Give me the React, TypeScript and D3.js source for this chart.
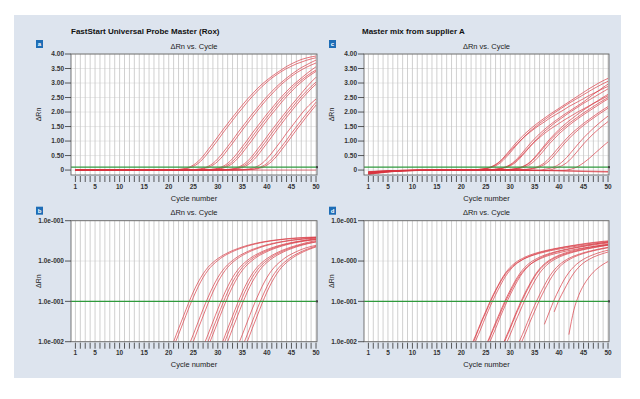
import React from 'react';
import * as d3 from 'd3';

type Pt = [number, number];
type Curve = { lead: Pt[]; start?: number; values?: number[] };

// FastStart Universal Probe Master (Rox) - dilution series, delta Rn per cycle
const fastStartCurves: Curve[] = [
  { lead: [[1, 0]], start: 19, values: [0.0025, 0.005, 0.010, 0.021, 0.043, 0.088, 0.17, 0.30, 0.48, 0.70, 0.92, 1.15, 1.38, 1.60, 1.82, 2.03, 2.24, 2.44, 2.62, 2.80, 2.96, 3.10, 3.23, 3.35, 3.46, 3.57, 3.66, 3.74, 3.81, 3.86, 3.90, 3.93] },
  { lead: [[1, 0]], start: 20, values: [0.0037, 0.0075, 0.015, 0.031, 0.064, 0.125, 0.23, 0.39, 0.59, 0.81, 1.03, 1.27, 1.49, 1.71, 1.93, 2.13, 2.34, 2.53, 2.71, 2.88, 3.03, 3.17, 3.29, 3.40, 3.50, 3.58, 3.66, 3.72, 3.78, 3.83, 3.87] },
  { lead: [[1, 0]], start: 23, values: [0.0037, 0.0075, 0.015, 0.031, 0.064, 0.125, 0.23, 0.39, 0.59, 0.81, 1.03, 1.27, 1.49, 1.71, 1.93, 2.13, 2.34, 2.53, 2.71, 2.88, 3.03, 3.17, 3.30, 3.42, 3.53, 3.62, 3.71, 3.79] },
  { lead: [[1, 0]], start: 23, values: [0.0025, 0.005, 0.010, 0.021, 0.043, 0.088, 0.17, 0.30, 0.48, 0.70, 0.92, 1.15, 1.38, 1.60, 1.82, 2.03, 2.24, 2.44, 2.62, 2.80, 2.96, 3.10, 3.23, 3.35, 3.45, 3.54, 3.62, 3.69] },
  { lead: [[1, 0]], start: 26, values: [0.0037, 0.0075, 0.015, 0.031, 0.064, 0.125, 0.23, 0.39, 0.59, 0.81, 1.03, 1.27, 1.49, 1.71, 1.93, 2.13, 2.34, 2.53, 2.71, 2.88, 3.03, 3.17, 3.31, 3.44, 3.56] },
  { lead: [[1, 0]], start: 26, values: [0.0025, 0.005, 0.010, 0.021, 0.043, 0.088, 0.17, 0.30, 0.48, 0.70, 0.92, 1.15, 1.38, 1.60, 1.82, 2.03, 2.24, 2.44, 2.62, 2.80, 2.96, 3.10, 3.23, 3.35, 3.45] },
  { lead: [[1, 0]], start: 27, values: [0.0037, 0.0075, 0.015, 0.031, 0.064, 0.125, 0.23, 0.39, 0.59, 0.81, 1.03, 1.27, 1.49, 1.71, 1.93, 2.13, 2.34, 2.53, 2.71, 2.88, 3.03, 3.17, 3.29, 3.40] },
  { lead: [[1, 0]], start: 29, values: [0.0025, 0.005, 0.010, 0.021, 0.043, 0.088, 0.17, 0.30, 0.48, 0.70, 0.92, 1.15, 1.38, 1.60, 1.82, 2.03, 2.24, 2.44, 2.64, 2.84, 3.03, 3.20] },
  { lead: [[1, 0]], start: 30, values: [0.0037, 0.0075, 0.015, 0.031, 0.064, 0.125, 0.23, 0.39, 0.59, 0.81, 1.03, 1.27, 1.49, 1.71, 1.93, 2.13, 2.34, 2.53, 2.71, 2.88, 3.03] },
  { lead: [[1, 0]], start: 30, values: [0.0025, 0.005, 0.010, 0.021, 0.043, 0.088, 0.17, 0.30, 0.48, 0.70, 0.92, 1.15, 1.38, 1.60, 1.82, 2.03, 2.24, 2.44, 2.62, 2.80, 2.96] },
  { lead: [[1, 0]], start: 33, values: [0.0037, 0.0075, 0.015, 0.031, 0.064, 0.125, 0.23, 0.39, 0.59, 0.81, 1.03, 1.27, 1.49, 1.71, 1.93, 2.13, 2.30, 2.45] },
  { lead: [[1, 0]], start: 34, values: [0.0037, 0.0075, 0.015, 0.031, 0.064, 0.125, 0.23, 0.39, 0.59, 0.81, 1.03, 1.27, 1.49, 1.71, 1.93, 2.13, 2.34] },
  { lead: [[1, 0]], start: 34, values: [0.0025, 0.005, 0.010, 0.021, 0.043, 0.088, 0.17, 0.30, 0.48, 0.70, 0.92, 1.15, 1.38, 1.60, 1.82, 2.03, 2.24] },
  { lead: [[1, 0], [50, 0]] },
];

// Master mix from supplier A
const supplierACurves: Curve[] = [
  { lead: [[1, -0.12], [8, -0.02], [14, 0]], start: 20, values: [0.002, 0.004, 0.008, 0.015, 0.030, 0.057, 0.108, 0.19, 0.32, 0.50, 0.70, 0.90, 1.08, 1.25, 1.40, 1.54, 1.67, 1.79, 1.91, 2.02, 2.13, 2.24, 2.35, 2.46, 2.57, 2.68, 2.79, 2.89, 2.99, 3.08, 3.16] },
  { lead: [[1, -0.08], [8, -0.015], [14, 0]], start: 21, values: [0.003, 0.006, 0.011, 0.021, 0.042, 0.080, 0.145, 0.25, 0.41, 0.60, 0.80, 0.99, 1.17, 1.33, 1.47, 1.61, 1.73, 1.85, 1.97, 2.08, 2.19, 2.30, 2.40, 2.50, 2.60, 2.70, 2.80, 2.89, 2.98, 3.06] },
  { lead: [[1, -0.15], [8, -0.03], [14, -0.005]], start: 20, values: [0.002, 0.004, 0.007, 0.014, 0.028, 0.053, 0.10, 0.18, 0.30, 0.47, 0.65, 0.84, 1.00, 1.16, 1.30, 1.43, 1.55, 1.66, 1.78, 1.88, 1.98, 2.08, 2.19, 2.28, 2.37, 2.46, 2.56, 2.64, 2.72, 2.81, 2.88] },
  { lead: [[1, -0.10], [8, -0.02], [14, 0]], start: 23, values: [0.002, 0.004, 0.008, 0.015, 0.030, 0.057, 0.108, 0.19, 0.32, 0.50, 0.70, 0.90, 1.08, 1.25, 1.40, 1.54, 1.67, 1.79, 1.91, 2.02, 2.13, 2.24, 2.35, 2.48, 2.61, 2.73, 2.85, 2.96] },
  { lead: [[1, -0.06], [8, -0.01], [14, 0]], start: 24, values: [0.003, 0.006, 0.011, 0.021, 0.042, 0.080, 0.145, 0.25, 0.41, 0.60, 0.80, 0.99, 1.17, 1.33, 1.47, 1.61, 1.73, 1.85, 1.97, 2.08, 2.19, 2.30, 2.40, 2.50, 2.60, 2.70, 2.80] },
  { lead: [[1, -0.13], [8, -0.025], [14, -0.005]], start: 23, values: [0.002, 0.004, 0.007, 0.014, 0.027, 0.051, 0.097, 0.17, 0.29, 0.45, 0.63, 0.81, 0.97, 1.12, 1.26, 1.39, 1.50, 1.61, 1.72, 1.82, 1.92, 2.02, 2.11, 2.20, 2.30, 2.38, 2.47, 2.56] },
  { lead: [[1, -0.09], [8, -0.02], [14, 0]], start: 27, values: [0.003, 0.006, 0.011, 0.021, 0.042, 0.080, 0.145, 0.25, 0.41, 0.60, 0.80, 0.99, 1.17, 1.33, 1.47, 1.61, 1.73, 1.85, 1.97, 2.08, 2.19, 2.30, 2.40, 2.50] },
  { lead: [[1, -0.11], [8, -0.02], [14, 0]], start: 27, values: [0.002, 0.004, 0.008, 0.015, 0.030, 0.057, 0.108, 0.19, 0.32, 0.50, 0.70, 0.90, 1.08, 1.25, 1.40, 1.54, 1.67, 1.79, 1.91, 2.02, 2.13, 2.24, 2.35, 2.45] },
  { lead: [[1, -0.05], [8, -0.01], [14, 0]], start: 27, values: [0.003, 0.006, 0.012, 0.023, 0.046, 0.088, 0.16, 0.27, 0.44, 0.64, 0.85, 1.05, 1.23, 1.40, 1.55, 1.69, 1.82, 1.95, 2.07, 2.18, 2.29, 2.40, 2.51, 2.61] },
  { lead: [[1, -0.14], [8, -0.03], [14, -0.01]], start: 30, values: [0.003, 0.006, 0.011, 0.021, 0.042, 0.080, 0.145, 0.25, 0.41, 0.60, 0.80, 0.99, 1.17, 1.33, 1.47, 1.61, 1.73, 1.85, 1.97, 2.08, 2.19] },
  { lead: [[1, -0.07], [8, -0.015], [14, 0]], start: 30, values: [0.002, 0.004, 0.008, 0.015, 0.030, 0.057, 0.108, 0.19, 0.32, 0.50, 0.70, 0.90, 1.08, 1.25, 1.40, 1.54, 1.67, 1.79, 1.91, 2.02, 2.13] },
  { lead: [[1, -0.12], [8, -0.02], [20, 0]], start: 36, values: [-0.01, 0.027, 0.055, 0.11, 0.20, 0.34, 0.52, 0.72, 0.92, 1.11, 1.28, 1.44, 1.59, 1.73, 1.86] },
  { lead: [[1, -0.09], [8, -0.02], [20, 0]], start: 37, values: [-0.02, -0.01, 0.055, 0.11, 0.19, 0.32, 0.50, 0.70, 0.90, 1.08, 1.25, 1.40, 1.54, 1.67] },
  { lead: [[1, -0.10], [8, -0.02], [25, 0]], start: 41, values: [-0.01, 0.015, 0.06, 0.14, 0.25, 0.38, 0.53, 0.68, 0.83, 0.97] },
  { lead: [[1, -0.10], [8, -0.02], [30, 0], [40, -0.03], [50, -0.07]] },
  { lead: [[1, -0.06], [8, -0.01], [30, 0], [50, -0.05]] },
];

const cycleLabels = [1, 5, 10, 15, 20, 25, 30, 35, 40, 45, 50];
const cycles = d3.range(1, 51);
const linearTicks = [0, 0.5, 1, 1.5, 2, 2.5, 3, 3.5, 4];
const linearLabels = ['0', '0.50', '1.00', '1.50', '2.00', '2.50', '3.00', '3.50', '4.00'];
const logTicks = [0.01, 0.1, 1, 10];
const logLabels = ['1.0e-002', '1.0e-001', '1.0e-000', '1.0e-001'];
const threshold = 0.1;

const FONT = 'Liberation Sans, Arial, sans-serif';

function toPoints(c: Curve): Pt[] {
  const pts: Pt[] = [...c.lead];
  (c.values || []).forEach((v, i) => pts.push([(c.start as number) + i, v]));
  return pts;
}

type PanelSpec = {
  id: string;
  curves: Curve[];
  log: boolean;
  left: number;
  right: number;
  top: number;
  bottom: number;
};

const panels: PanelSpec[] = [
  { id: 'a', curves: fastStartCurves, log: false, left: 71, right: 317, top: 54, bottom: 175 },
  { id: 'b', curves: fastStartCurves, log: true, left: 71, right: 317, top: 220.7, bottom: 341.7 },
  { id: 'c', curves: supplierACurves, log: false, left: 364, right: 609, top: 54, bottom: 175 },
  { id: 'd', curves: supplierACurves, log: true, left: 364, right: 609, top: 220.7, bottom: 341.7 },
];

function Panel({ p }: { p: PanelSpec }) {
  const x = d3.scaleLinear().domain([0.1, 50.2]).range([p.left, p.right]);
  const y: any = p.log
    ? d3.scaleLog().domain([0.01, 10]).range([p.bottom, p.top])
    : d3.scaleLinear().domain([-0.17, 4]).range([p.bottom, p.top]);
  const line = d3.line<Pt>()
    .x((d) => x(d[0]))
    .y((d) => y(d[1]))
    .curve(d3.curveMonotoneX);
  if (p.log) line.defined((d) => d[1] > 0);

  const ticks = p.log ? logTicks : linearTicks;
  const labels = p.log ? logLabels : linearLabels;
  const cx = (p.left + p.right) / 2;
  const clipId = `clip-${p.id}`;

  return (
    <g>
      <clipPath id={clipId}>
        <rect x={p.left} y={p.top} width={p.right - p.left} height={p.bottom - p.top} />
      </clipPath>
      <rect x={p.left} y={p.top} width={p.right - p.left} height={p.bottom - p.top} fill="#fff" />
      {ticks.map((t) => (
        <line key={`h${t}`} x1={p.left} x2={p.right} y1={y(t)} y2={y(t)} stroke="#e2e2e2" strokeWidth={0.8} />
      ))}
      {cycles.map((c) => (
        <line key={`v${c}`} x1={x(c)} x2={x(c)} y1={p.top} y2={p.bottom} stroke="#c4c4c4" strokeWidth={0.8} />
      ))}
      <g clipPath={`url(#${clipId})`}>
        {p.curves.map((c, i) => (
          <path key={i} d={line(toPoints(c)) || ''} fill="none" stroke="#d8343f" strokeWidth={0.8} strokeOpacity={0.85} />
        ))}
      </g>
      <line x1={p.left} x2={p.right} y1={y(threshold)} y2={y(threshold)} stroke="#2f9a3c" strokeWidth={1.3} />
      <rect x={p.right - 1} y={y(threshold) - 1} width={2} height={2} fill="#222" />
      <rect x={p.left} y={p.top} width={p.right - p.left} height={p.bottom - p.top} fill="none" stroke="#666" strokeWidth={0.9} />
      {ticks.map((t, i) => (
        <g key={`yt${t}`}>
          <line x1={p.left - 6} x2={p.left} y1={y(t)} y2={y(t)} stroke="#333" strokeWidth={0.8} />
          <text x={p.left - 7} y={y(t)} dy="0.35em" textAnchor="end" fontSize={6.5} fontWeight="bold" fill="#333">{labels[i]}</text>
        </g>
      ))}
      {cycles.map((c) => (
        <line key={`xt${c}`} x1={x(c)} x2={x(c)} y1={p.bottom + 1} y2={p.bottom + 7} stroke="#333" strokeWidth={0.8} />
      ))}
      {cycleLabels.map((c) => (
        <text key={`xl${c}`} x={x(c)} y={p.bottom + 13.5} textAnchor="middle" fontSize={6.5} fontWeight="bold" fill="#333">{c}</text>
      ))}
      <text x={cx} y={p.bottom + 25.5} textAnchor="middle" fontSize={7.5} fill="#222">Cycle number</text>
      <text x={cx} y={p.top - 5.5} textAnchor="middle" fontSize={7.5} fill="#222">ΔRn vs. Cycle</text>
      <text transform={`translate(${p.left - 30},${(p.top + p.bottom) / 2}) rotate(-90)`} textAnchor="middle" fontSize={7} fill="#222">ΔRn</text>
      <rect x={p.left - 35} y={p.top - 14} width={7} height={8} fill="#1e6db6" />
      <text x={p.left - 31.5} y={p.top - 7.6} textAnchor="middle" fontSize={6} fontWeight="bold" fill="#fff">{p.id}</text>
    </g>
  );
}

export default function App() {
  return (
    <svg width={640} height={399} style={{ position: 'absolute', left: 0, top: 0, display: 'block' }} fontFamily={FONT}>
      <rect x={0} y={0} width={640} height={399} fill="#fff" />
      <rect x={14} y={15} width={607} height={363} fill="#dde4ee" />
      <text x={71} y={34} fontSize={8} fontWeight="bold" fill="#111">FastStart Universal Probe Master (Rox)</text>
      <text x={362} y={34} fontSize={8} fontWeight="bold" fill="#111">Master mix from supplier A</text>
      {panels.map((p) => <Panel key={p.id} p={p} />)}
    </svg>
  );
}
